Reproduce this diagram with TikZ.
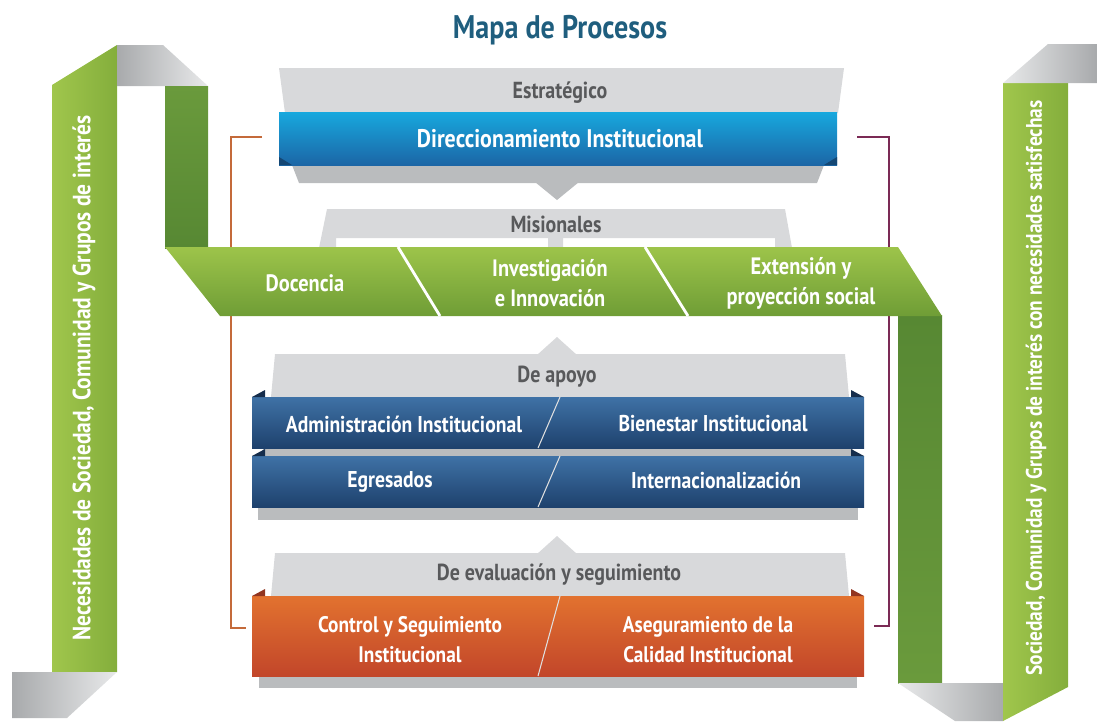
\documentclass[tikz,border=0pt]{standalone}
\usepackage{fontspec}
\setmainfont{PT Sans}[FakeStretch=0.86]
\usepackage{tikz}
\usetikzlibrary{positioning}

\definecolor{titleblue}{HTML}{1F5E7E}
\definecolor{txtgray}{HTML}{58595B}
\definecolor{lgreenA}{HTML}{A0C64C}
\definecolor{lgreenB}{HTML}{84AE3C}
\definecolor{dgreenA}{HTML}{6A9A3C}
\definecolor{dgreenB}{HTML}{578833}
\definecolor{bandtop}{HTML}{9DC44A}
\definecolor{bandbot}{HTML}{6F9D36}
\definecolor{stripgray}{HTML}{D8D9DB}
\definecolor{shadowgray}{HTML}{BABCBE}
\definecolor{foldA}{HTML}{A8AAAC}
\definecolor{foldB}{HTML}{E8E9EA}
\definecolor{cyanA}{HTML}{17A8DE}
\definecolor{cyanB}{HTML}{1C66A6}
\definecolor{navyA}{HTML}{3F72A6}
\definecolor{navyB}{HTML}{1E416D}
\definecolor{orangeA}{HTML}{E2722F}
\definecolor{orangeB}{HTML}{C2462A}
\definecolor{lbrack}{HTML}{C46A3A}
\definecolor{rbrack}{HTML}{7B2A55}

\begin{document}
\begin{tikzpicture}[x=0.02cm, y=-0.02cm]
\tikzset{boxtext/.style={text=white, align=center, font=\bfseries\fontsize{13.5}{17}\selectfont},
  navytext/.style={boxtext, font=\bfseries\fontsize{13}{15}\selectfont},
  graytext/.style={text=txtgray, font=\bfseries\fontsize{13.2}{15}\selectfont},
  sidetext/.style={text=white, rotate=90, font=\bfseries\fontsize{14.2}{16}\selectfont},
  divider/.style={white, line width=1.6pt},
  thindiv/.style={white!75!gray, line width=0.6pt},
  bracket/.style={line width=0.7pt}}
\useasboundingbox (0,0) rectangle (1097,721);

% title
\node[text=titleblue, font=\bfseries\fontsize{18.6}{20}\selectfont] (title) at (560,30) {Mapa de Procesos};

% left ribbon
\shade[left color=lgreenA, right color=lgreenB] (52,85) -- (117,45) -- (117,672) -- (52,672) -- cycle;
\shade[left color=foldA, right color=foldB] (117,45) -- (163,45) -- (208,86) -- (117,86) -- cycle;
\shade[top color=dgreenA, bottom color=dgreenB] (165,86) rectangle (208,248);
\shade[left color=foldA, right color=foldB] (12,672) -- (117,672) -- (67,718) -- (12,718) -- cycle;
\node[sidetext] (needs) at (84,378) {Necesidades de Sociedad, Comunidad y Grupos de interés};

% right ribbon
\shade[top color=dgreenB, bottom color=dgreenA] (898,315) rectangle (942,683);
\shade[left color=foldB, right color=foldA] (898,683) -- (1003,683) -- (1003,721) -- (955,721) -- cycle;
\shade[left color=lgreenA, right color=lgreenB] (1003,83) -- (1068,83) -- (1068,687) -- (1003,721) -- cycle;
\shade[left color=foldB, right color=foldA] (1003,83) -- (1048,44) -- (1097,44) -- (1097,83) -- cycle;
\node[sidetext, font=\bfseries\fontsize{12.8}{15}\selectfont] (satisfied) at (1036,388) {Sociedad, Comunidad y Grupos de interés con necesidades satisfechas};

% brackets
\coordinate (lb1) at (262,137);
\coordinate (lb2) at (231,137);
\coordinate (lb3) at (231,628);
\coordinate (lb4) at (246,628);
\coordinate (rb1) at (857,137);
\coordinate (rb2) at (889,137);
\coordinate (rb3) at (889,626);
\coordinate (rb4) at (874,626);
\draw[bracket, lbrack] (lb1) -- (lb2) -- (lb3) -- (lb4);
\draw[bracket, rbrack] (rb1) -- (rb2) -- (rb3) -- (rb4);

% strategic
\fill[stripgray] (279,68) -- (844,68) -- (838,113) -- (285,113) -- cycle;
\node[graytext] (strat) at (560,93) {Estratégico};
\fill[shadowgray] (292,165) -- (824,165) -- (817,183) -- (299,183) -- cycle;
\fill[shadowgray] (535,182) -- (579,182) -- (557,200) -- cycle;
\shade[top color=cyanA, bottom color=cyanB] (279,112) rectangle (837,165);
\fill[cyanB!70!black] (279,157) -- (292,165) -- (279,165) -- cycle;
\fill[cyanB!70!black] (837,157) -- (824,165) -- (837,165) -- cycle;
\node[boxtext, font=\bfseries\fontsize{14.5}{17}\selectfont] (direc) at (560,139) {Direccionamiento Institucional};

% missional
\fill[stripgray] (327,209) -- (785,209) -- (792,248) -- (775,248) -- (775,238) -- (563,238)
  -- (563,248) -- (548,248) -- (548,238) -- (336,238) -- (336,248) -- (319,248) -- cycle;
\node[graytext] (mision) at (556,224) {Misionales};
\shade[top color=bandtop, bottom color=bandbot] (165,247) -- (898,247) -- (942,316) -- (220,316) -- cycle;
\draw[divider] (398,247) -- (440,316);
\draw[divider] (645,247) -- (688,316);
\node[boxtext] (doc) at (305,283) {Docencia};
\node[boxtext] (inv) at (550,283) {Investigación\\e Innovación};
\node[boxtext] (ext) at (801,283) {Extensión y\\proyección social};

% support
\fill[stripgray] (537,355) -- (577,355) -- (557,337) -- cycle;
\fill[stripgray] (275,354) -- (845,354) -- (849,397) -- (271,397) -- cycle;
\node[graytext] (apoyo) at (557,377) {De apoyo};
\fill[shadowgray] (263,447) rectangle (853,457);
\fill[shadowgray] (258,506) rectangle (858,520);
\foreach \ya/\yb in {397/448, 456/507} {
  \shade[top color=navyA, bottom color=navyB] (252,\ya) rectangle (864,\yb);
  \fill[navyB!70!black] (252,\ya) -- (265,\ya-7) -- (265,\ya) -- cycle;
  \fill[navyB!70!black] (864,\ya) -- (851,\ya-7) -- (851,\ya) -- cycle;
  \draw[thindiv] (560,\ya) -- (538,\yb);
}
\node[navytext] (admin) at (404,424) {Administración Institucional};
\node[navytext] (bien) at (713,424) {Bienestar Institucional};
\node[navytext] (egre) at (390,482) {Egresados};
\node[navytext] (inter) at (716,480) {Internacionalización};

% evaluation
\fill[stripgray] (537,554) -- (577,554) -- (557,536) -- cycle;
\fill[stripgray] (275,553) -- (845,553) -- (849,596) -- (271,596) -- cycle;
\node[graytext] (eval) at (559,575) {De evaluación y seguimiento};
\fill[shadowgray] (259,675) rectangle (857,688);
\shade[top color=orangeA, bottom color=orangeB] (252,596) rectangle (864,676);
\fill[orangeB!75!black] (252,596) -- (265,589) -- (265,596) -- cycle;
\fill[orangeB!75!black] (864,596) -- (851,589) -- (851,596) -- cycle;
\draw[thindiv] (560,596) -- (538,676);
\node[boxtext, font=\bfseries\fontsize{12.8}{17}\selectfont] (ctrl) at (410,640) {Control y Seguimiento\\Institucional};
\node[boxtext, font=\bfseries\fontsize{12.8}{17}\selectfont] (aseg) at (708,640) {Aseguramiento de la\\Calidad Institucional};
\end{tikzpicture}
\end{document}
